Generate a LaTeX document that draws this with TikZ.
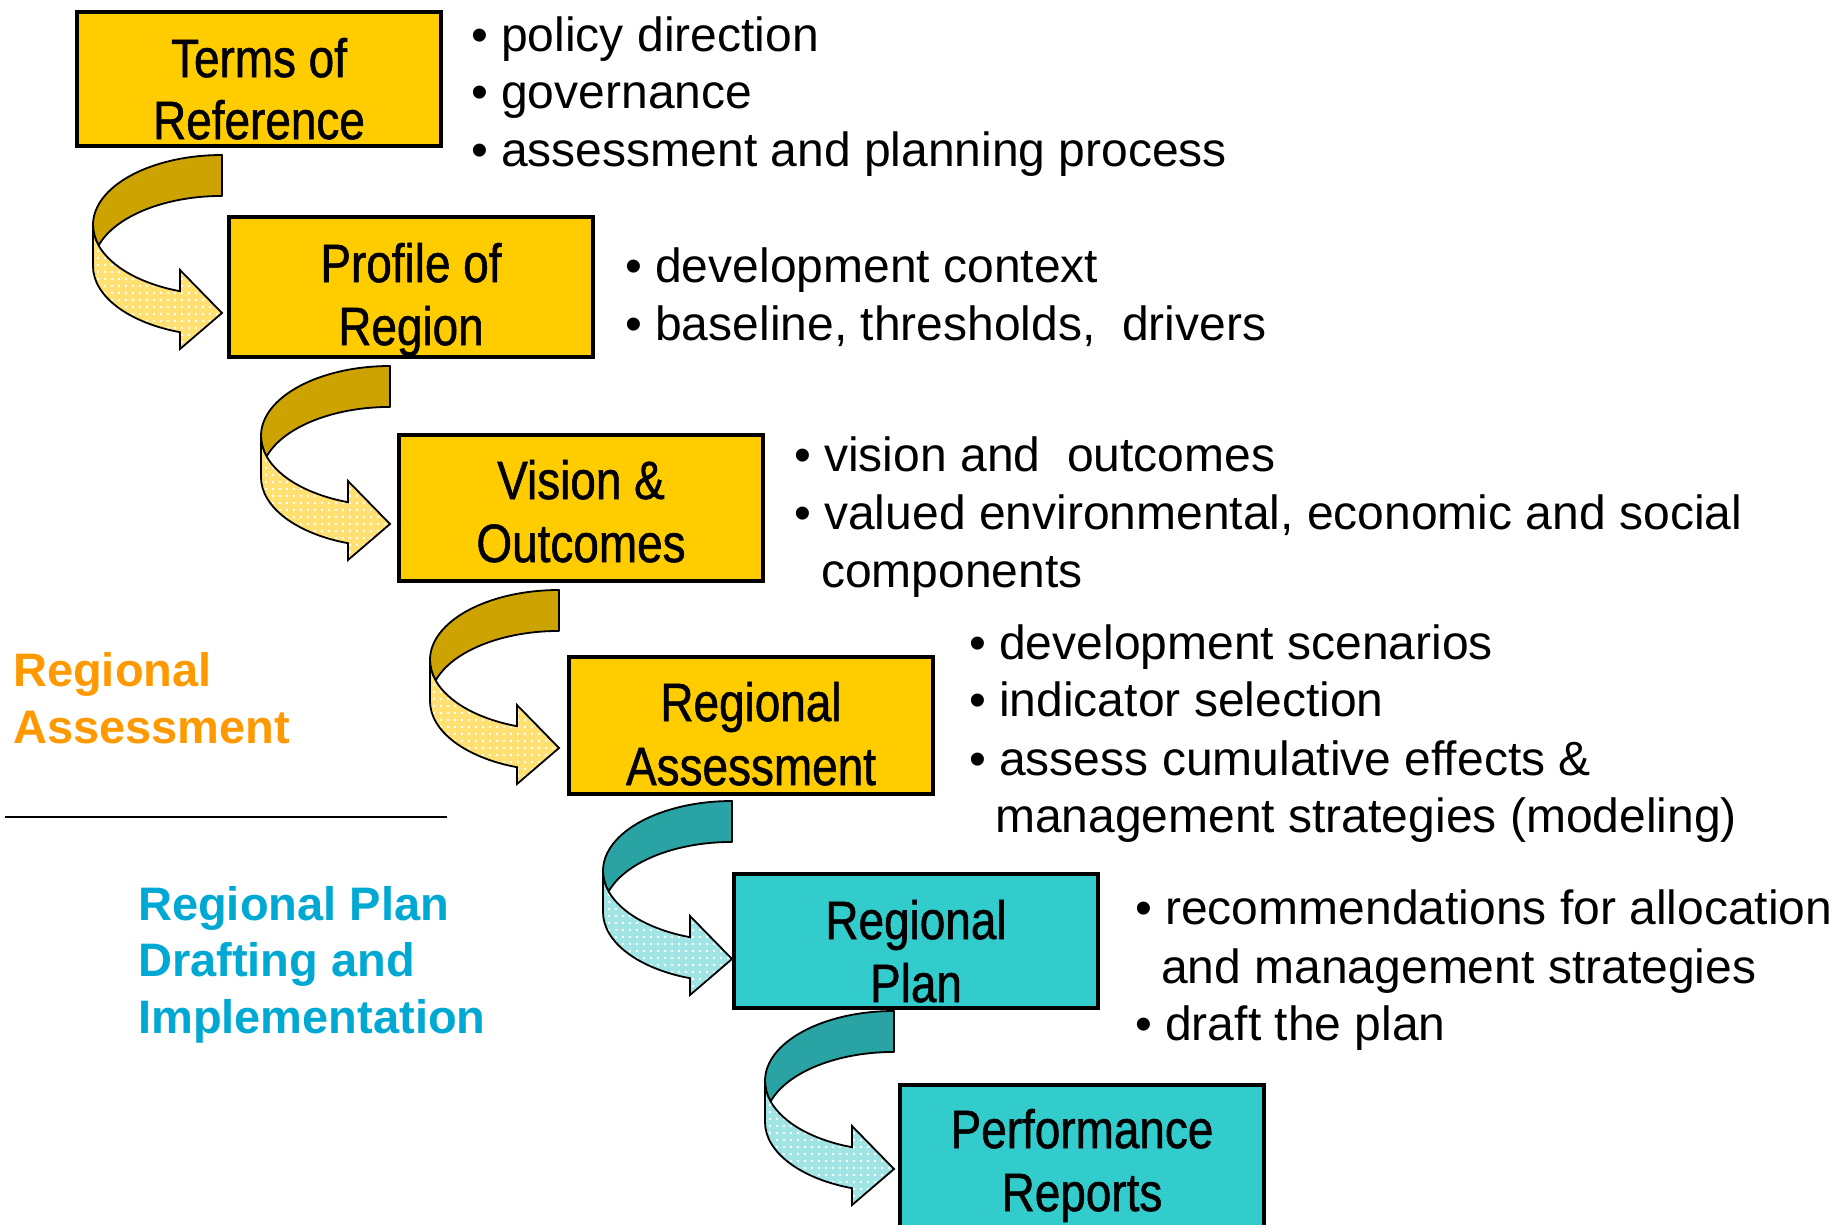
\documentclass[tikz,border=0pt]{standalone}
\usepackage{fontspec}
\setmainfont{Liberation Sans}
\newfontfamily\boxfont[FakeStretch=0.85,FakeBold=1]{Liberation Sans}
\usetikzlibrary{patterns.meta,calc}
\definecolor{boxyellow}{HTML}{FFCC00}
\definecolor{boxteal}{HTML}{33CCCC}
\definecolor{golddark}{HTML}{CCA300}
\definecolor{goldlight}{HTML}{FFE070}
\definecolor{tealdark}{HTML}{29A3A3}
\definecolor{teallight}{HTML}{A0E4E4}
\definecolor{labelorange}{HTML}{FF9900}
\definecolor{labelblue}{HTML}{00A9D3}
\tikzset{
  stage/.style={draw=black, line width=3.2pt, anchor=north west, minimum width=364pt, inner sep=0pt, outer sep=0pt},
  stagetext/.style={anchor=base, font=\boxfont\fontsize{54}{63}\selectfont, inner sep=0pt},
  bullettext/.style={anchor=base west, font=\fontsize{48}{57}\selectfont, inner sep=0pt},
  phaselabel/.style={anchor=base west, font=\bfseries\fontsize{47}{56}\selectfont, inner sep=0pt},
  twist/.pic={
    \path[fill=#1dark, draw=black, line width=1.8pt, line join=round]
      (0,0) arc[start angle=270, end angle=180, x radius=129, y radius=70]
      arc[start angle=180, end angle=163, x radius=129, y radius=70]
      arc[start angle=197, end angle=270, x radius=129, y radius=70] -- cycle;
    \path[preaction={fill=#1light}, pattern={Dots[radius=1.3pt, distance=7pt]}, pattern color=white, draw=black, line width=1.8pt, line join=miter]
      (-123.36,90.47) arc[start angle=163, end angle=109, x radius=129, y radius=70]
      -- (-42,115) -- (0,158) -- (-42,194) -- (-42,177.2)
      arc[start angle=109, end angle=180, x radius=129, y radius=70]
      -- (-129,70)
      arc[start angle=180, end angle=163, x radius=129, y radius=70] -- cycle;
  }
}
\begin{document}
\begin{tikzpicture}[x=1pt,y=-1pt]
\useasboundingbox[fill=white] (0,0) rectangle (1833,1224);

% ribbon arrows
\coordinate (a1) at (222,155);
\coordinate (a2) at (390,366);
\coordinate (a3) at (559,590);
\coordinate (a4) at (732,801);
\coordinate (a5) at (894,1011);
\pic at (a1) {twist=gold};
\pic at (a2) {twist=gold};
\pic at (a3) {twist=gold};
\pic at (a4) {twist=teal};
\pic at (a5) {twist=teal};

% stage boxes
\node[stage, fill=boxyellow, minimum height=134pt] (b1) at (77,12) {};
\node[stage, fill=boxyellow, minimum height=140pt] (b2) at (229,217) {};
\node[stage, fill=boxyellow, minimum height=146pt] (b3) at (399,435) {};
\node[stage, fill=boxyellow, minimum height=137pt] (b4) at (569,657) {};
\node[stage, fill=boxteal, minimum height=134pt] (b5) at (734,874) {};
\node[stage, fill=boxteal, minimum height=150pt] (b6) at (900,1085) {};

\node[stagetext] (t1a) at ($(b1.north)+(0,65)$) {Terms of};
\node[stagetext] (t1b) at ($(b1.north)+(0,127)$) {Reference};
\node[stagetext] (t2a) at ($(b2.north)+(0,65)$) {Profile of};
\node[stagetext] (t2b) at ($(b2.north)+(0,128)$) {Region};
\node[stagetext] (t3a) at ($(b3.north)+(0,64)$) {Vision \&};
\node[stagetext] (t3b) at ($(b3.north)+(0,127)$) {Outcomes};
\node[stagetext] (t4a) at ($(b4.north)+(0,64)$) {Regional};
\node[stagetext] (t4b) at ($(b4.north)+(0,128)$) {Assessment};
\node[stagetext] (t5a) at ($(b5.north)+(0,65)$) {Regional};
\node[stagetext] (t5b) at ($(b5.north)+(0,128)$) {Plan};
\node[stagetext] (t6a) at ($(b6.north)+(0,63)$) {Performance};
\node[stagetext] (t6b) at ($(b6.north)+(0,126)$) {Reports};

% bullet texts
\node[bullettext] (g1a) at (471,51) {• policy direction};
\node[bullettext] (g1b) at (471,108) {• governance};
\node[bullettext] (g1c) at (471,166) {• assessment and planning process};

\node[bullettext] (g2a) at (625,282) {• development context};
\node[bullettext] (g2b) at (625,340) {• baseline, thresholds,~ drivers};

\node[bullettext] (g3a) at (794,471) {• vision and~ outcomes};
\node[bullettext] (g3b) at (794,529) {• valued environmental, economic and social};
\node[bullettext] (g3c) at (821,587) {components};

\node[bullettext] (g4a) at (969,659) {• development scenarios};
\node[bullettext] (g4b) at (969,716) {• indicator selection};
\node[bullettext] (g4c) at (969,775) {• assess cumulative effects \&};
\node[bullettext] (g4d) at (995,832) {management strategies (modeling)};

\node[bullettext] (g5a) at (1135,924) {• recommendations for allocation};
\node[bullettext] (g5b) at (1161,983) {and management strategies};
\node[bullettext] (g5c) at (1135,1040) {• draft the plan};

% phase labels
\node[phaselabel, text=labelorange] (p1a) at (13,686) {Regional};
\node[phaselabel, text=labelorange] (p1b) at (13,743) {Assessment};
\coordinate (s1) at (5,817);
\coordinate (s2) at (447,817);
\draw[line width=2.5pt] (s1) -- (s2);
\node[phaselabel, text=labelblue] (p2a) at (138,920) {Regional Plan};
\node[phaselabel, text=labelblue] (p2b) at (138,976) {Drafting and};
\node[phaselabel, text=labelblue] (p2c) at (138,1033) {Implementation};
\end{tikzpicture}
\end{document}
